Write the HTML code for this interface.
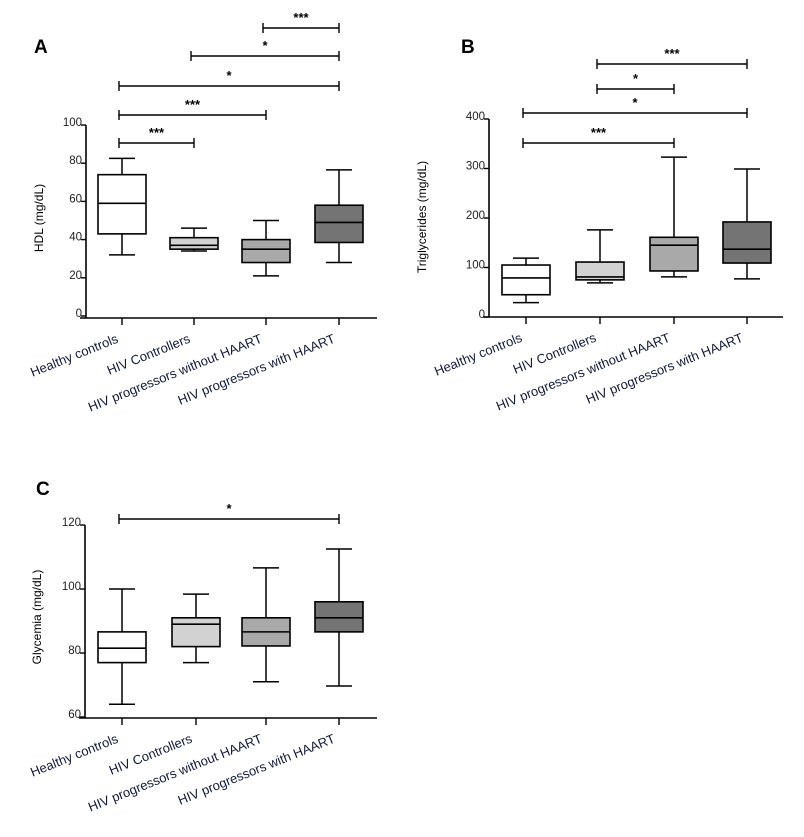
<!DOCTYPE html>
<html><head><meta charset="utf-8"><style>
body{margin:0;background:#fff;}
svg{display:block;font-family:"Liberation Sans","DejaVu Sans",sans-serif;}
</style></head><body>
<svg id="fig" width="804" height="837" viewBox="0 0 804 837"></svg>
<script>
const categories=["Healthy controls","HIV Controllers","HIV progressors without HAART","HIV progressors with HAART"];
const fills=["#ffffff","#d2d2d2","#a9a9a9","#747474"];
// [min,q1,median,q3,max]
const hdlValues=[[32,43,59,74,82.5],[34,35,37,41,46],[21,28,35,40,50],[28,38.5,49,58,76.5]];
const trigValues=[[29,45,79,105,119],[69,75,81,111,176],[81,93,145,161,323],[77,109,137,192,299]];
const glyValues=[[64,77,81.5,86.6,100],[77,82,89,91,98.4],[71,82.2,86.6,91,106.6],[69.7,86.6,91,96,112.5]];
const hdlTicks=[0,20,40,60,80,100];
const trigTicks=[0,100,200,300,400];
const glyTicks=[60,80,100,120];
const hdlSig=[[2,3,"***"],[1,3,"*"],[0,3,"*"],[0,2,"***"],[0,1,"***"]];
const trigSig=[[1,3,"***"],[1,2,"*"],[0,3,"*"],[0,2,"***"]];
const glySig=[[0,3,"*"]];

const NS="http://www.w3.org/2000/svg";
const svg=document.getElementById('fig');
function mk(tag,attrs,parent){const e=document.createElementNS(NS,tag);for(const k in attrs)e.setAttribute(k,attrs[k]);(parent||svg).appendChild(e);return e;}

function panel(cfg){
  const g=mk('g',{});
  
  
  const y=v=>cfg.y0-(v-cfg.vmin)*(cfg.y0-cfg.y1)/(cfg.vmax-cfg.vmin);
  const x=i=>cfg.cx[i];
  const L=mk('text',{x:cfg.letter[0],y:cfg.letter[1],'font-size':19,'font-weight':'bold',fill:'#000'},g);
  L.textContent=cfg.letterText;
  
  
  const ya=mk('line',{x1:cfg.ax,y1:y(cfg.vmax),x2:cfg.ax,y2:cfg.axisY,stroke:'#000','stroke-width':1.6},g);
  
  
  const xa=mk('line',{x1:cfg.ax-6,y1:cfg.axisY,x2:cfg.xend,y2:cfg.axisY,stroke:'#000','stroke-width':1.6},g);
  
  
  cfg.ticks.forEach(t=>{
    mk('line',{x1:cfg.ax-5,y1:y(t),x2:cfg.ax,y2:y(t),stroke:'#000','stroke-width':1.4},g);
    const tl=mk('text',{x:cfg.ax-4,y:y(t)+1,'font-size':11.5,'text-anchor':'end',fill:'#222'},g);
    tl.textContent=t;
    
    
  });
  const yt=mk('text',{x:0,y:0,'font-size':12,'text-anchor':'middle',fill:'#000',transform:`translate(${cfg.titleX},${cfg.titleY}) rotate(-90)`},g);
  yt.textContent=cfg.title;
  
  
  categories.forEach((c,i)=>{
    mk('line',{x1:x(i),y1:cfg.axisY,x2:x(i),y2:cfg.axisY+7,stroke:'#000','stroke-width':1.4},g);
    const t=mk('text',{x:0,y:0,'font-size':13,'text-anchor':'end',fill:'#101838',transform:`translate(${x(i)-3},${cfg.axisY+24}) rotate(-22)`},g);
    t.textContent=c;
    
    
  });
  cfg.data.forEach((d,i)=>{
    const bg=mk('g',{},g);
    
    
    const cx=x(i),w=24,cw=13;
    mk('line',{x1:cx,y1:y(d[4]),x2:cx,y2:y(d[3]),stroke:'#000','stroke-width':1.5},bg);
    mk('line',{x1:cx,y1:y(d[1]),x2:cx,y2:y(d[0]),stroke:'#000','stroke-width':1.5},bg);
    mk('line',{x1:cx-cw,y1:y(d[4]),x2:cx+cw,y2:y(d[4]),stroke:'#000','stroke-width':1.5},bg);
    mk('line',{x1:cx-cw,y1:y(d[0]),x2:cx+cw,y2:y(d[0]),stroke:'#000','stroke-width':1.5},bg);
    mk('rect',{x:cx-w,y:y(d[3]),width:2*w,height:y(d[1])-y(d[3]),fill:fills[i],stroke:'#000','stroke-width':1.6},bg);
    mk('line',{x1:cx-w,y1:y(d[2]),x2:cx+w,y2:y(d[2]),stroke:'#000','stroke-width':1.6},bg);
  });
  cfg.sig.forEach((s,k)=>{
    const by=cfg.sigY[k];
    const sg=mk('g',{},g);
    
    
    const x1=x(s[0])-3,x2=x(s[1]);
    mk('line',{x1:x1,y1:by,x2:x2,y2:by,stroke:'#000','stroke-width':1.4},sg);
    mk('line',{x1:x1,y1:by-5,x2:x1,y2:by+5,stroke:'#000','stroke-width':1.4},sg);
    mk('line',{x1:x2,y1:by-5,x2:x2,y2:by+5,stroke:'#000','stroke-width':1.4},sg);
    const st=mk('text',{x:(x1+x2)/2,y:by-6,'font-size':13,'font-weight':'bold','text-anchor':'middle',fill:'#000'},sg);
    st.textContent=s[2];
  });
}
panel({name:'panel-a-hdl',letterText:'A',letter:[34,53],vmin:0,vmax:100,y0:316,y1:125,ax:86,axisY:318,xend:377,
  cx:[122,194,266,339],ticks:hdlTicks,title:'HDL (mg/dL)',titleX:43,titleY:218,data:hdlValues,sig:hdlSig,sigY:[28,56,86,115,143]});
panel({name:'panel-b-triglycerides',letterText:'B',letter:[461,53],vmin:0,vmax:400,y0:317,y1:119,ax:489,axisY:317,xend:783,
  cx:[526,600,674,747],ticks:trigTicks,title:'Triglycerides (mg/dL)',titleX:426,titleY:217,data:trigValues,sig:trigSig,sigY:[64,89,113,143]});
panel({name:'panel-c-glycemia',letterText:'C',letter:[36,495],vmin:60,vmax:120,y0:717,y1:525,ax:85,axisY:718,xend:377,
  cx:[122,196,266,339],ticks:glyTicks,title:'Glycemia (mg/dL)',titleX:41,titleY:617,data:glyValues,sig:glySig,sigY:[519]});
</script>
</body></html>
